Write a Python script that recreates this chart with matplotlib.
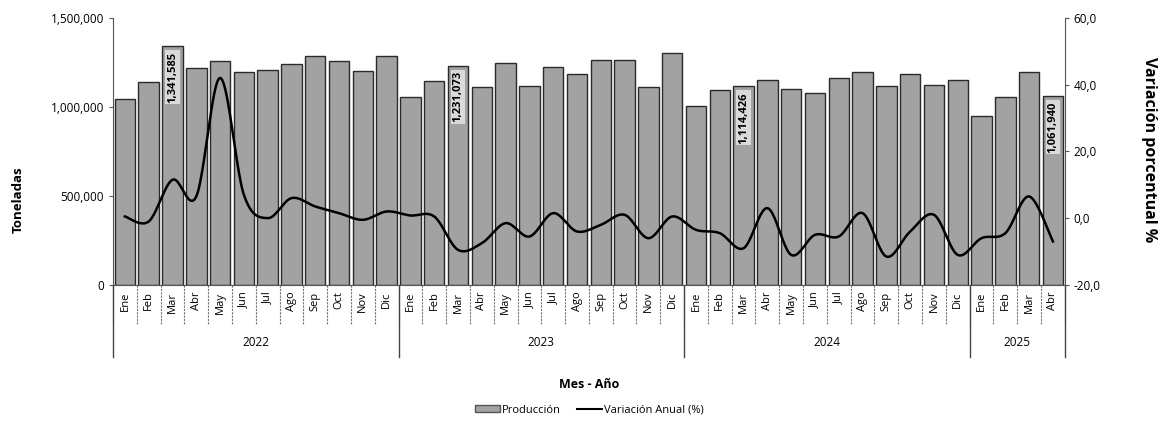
import numpy as np
import matplotlib
matplotlib.use("Agg")
import matplotlib.pyplot as plt
from matplotlib.patches import Patch
from matplotlib.lines import Line2D
from matplotlib.ticker import FuncFormatter

plt.rcParams['font.family'] = ['Open Sans', 'DejaVu Sans']

meses = ['Ene', 'Feb', 'Mar', 'Abr', 'May', 'Jun', 'Jul', 'Ago', 'Sep', 'Oct', 'Nov', 'Dic']
anios = ['2022', '2023', '2024', '2025']
meses_por_anio = [12, 12, 12, 4]

produccion = [1045000, 1142000, 1341585, 1217000, 1255000, 1198000, 1208000, 1240000, 1288000, 1255000, 1202000, 1288000,
              1056000, 1146000, 1231073, 1114000, 1249000, 1118000, 1226000, 1184000, 1264000, 1264000, 1114000, 1302000,
              1006000, 1096000, 1114426, 1148000, 1099000, 1077000, 1161000, 1198000, 1118000, 1185000, 1124000, 1148000,
              951000, 1058000, 1193000, 1061940]

variacion = [0.5, -1.0, 11.5, 6.5, 42.0, 7.0, 0.0, 6.0, 3.5, 1.5, -0.5, 2.0,
             0.8, 0.5, -9.5, -7.5, -1.5, -5.5, 1.5, -4.0, -2.0, 1.0, -6.0, 0.5,
             -3.5, -4.5, -9.0, 3.0, -11.0, -5.0, -5.5, 1.5, -11.5, -4.0, 1.0, -11.0,
             -6.0, -4.5, 6.5, -7.0]

# indices with a data label (Mar of each year, last month)
etiquetas = [2, 14, 26, 39]


def suavizar(x, y, n=24):
    # Catmull-Rom style bezier, close to Excel's smoothed line
    x = np.asarray(x, float)
    y = np.asarray(y, float)
    xs, ys = [], []
    t = np.linspace(0, 1, n, endpoint=False)
    for i in range(len(x) - 1):
        i0, i3 = max(i - 1, 0), min(i + 2, len(x) - 1)
        for arr, out in ((x, xs), (y, ys)):
            p0, p1, p2, p3 = arr[i0], arr[i], arr[i + 1], arr[i3]
            c1 = p1 + (p2 - p0) / 6
            c2 = p2 - (p3 - p1) / 6
            out.extend((1 - t) ** 3 * p1 + 3 * (1 - t) ** 2 * t * c1 + 3 * (1 - t) * t ** 2 * c2 + t ** 3 * p2)
    xs.append(x[-1])
    ys.append(y[-1])
    return np.array(xs), np.array(ys)


fig = plt.figure(figsize=(11.65, 4.24), dpi=100)
ax = fig.add_axes([0.097, 0.328, 0.817, 0.630])
x = np.arange(len(produccion))

ax.bar(x, produccion, width=0.86, color='#a2a2a2', edgecolor='#2a2a2a', linewidth=1.0, zorder=2)
ax.set_xlim(-0.5, len(produccion) - 0.5)
ax.set_ylim(0, 1500000)
ax.set_yticks([0, 500000, 1000000, 1500000])
ax.yaxis.set_major_formatter(FuncFormatter(lambda v, p: f'{int(v):,}'))
ax.tick_params(axis='y', labelsize=8.5, length=3, color='#555555')
ax.set_xticks([])
for s in ['top', 'right']:
    ax.spines[s].set_visible(False)
ax.spines['left'].set_color('#555555')
ax.spines['bottom'].set_color('#555555')

for i in etiquetas:
    ax.annotate(f'{produccion[i]:,}', (x[i], produccion[i]), xytext=(0, -4), textcoords='offset points',
                rotation=90, ha='center', va='top', fontsize=8, fontweight='bold', zorder=5,
                bbox=dict(boxstyle='square,pad=0.15', facecolor='#dadada', edgecolor='none'))

ax2 = ax.twinx()
ax2.set_ylim(-20, 60)
ax2.set_yticks([-20, 0, 20, 40, 60])
ax2.yaxis.set_major_formatter(FuncFormatter(lambda v, p: f'{v:.1f}'.replace('.', ',')))
ax2.tick_params(axis='y', labelsize=8.5, length=3, color='#555555')
for s in ['top', 'left', 'bottom']:
    ax2.spines[s].set_visible(False)
ax2.spines['right'].set_color('#555555')
xs, ys = suavizar(x, variacion)
ax2.plot(xs, ys, color='black', linewidth=1.8, zorder=4)

# category axis: months and years
tr = ax.get_xaxis_transform()
for i in x:
    ax.text(i, -0.025, meses[i % 12], transform=tr, rotation=90, ha='center', va='top', fontsize=8)
for b in range(len(produccion) + 1):
    ax.plot([b - 0.5, b - 0.5], [0, -0.15], transform=tr, color='#777777', linewidth=0.8,
            linestyle=(0, (2, 1)), clip_on=False)
inicio = 0
for anio, n in zip(anios, meses_por_anio):
    ax.plot([inicio - 0.5, inicio - 0.5], [0, -0.27], transform=tr, color='#444444', linewidth=1, clip_on=False)
    ax.text(inicio + n / 2 - 0.5, -0.215, anio, transform=tr, ha='center', va='center', fontsize=8.5)
    inicio += n
ax.plot([inicio - 0.5, inicio - 0.5], [0, -0.27], transform=tr, color='#444444', linewidth=1, clip_on=False)

fig.text(0.016, 0.528, 'Toneladas', rotation=90, ha='center', va='center', fontsize=9.5, fontweight='bold')
fig.text(0.986, 0.646, 'Variación porcentual %', rotation=270, ha='center', va='center', fontsize=11.5,
         fontweight='bold')
fig.text(0.506, 0.092, 'Mes - Año', ha='center', va='center', fontsize=9, fontweight='bold')

handles = [Patch(facecolor='#a2a2a2', edgecolor='#555555'),
           Line2D([0], [0], color='black', linewidth=1.5)]
fig.legend(handles, ['Producción', 'Variación Anual (%)'], loc='center', bbox_to_anchor=(0.506, 0.033),
           ncol=2, frameon=False, fontsize=8, handlelength=2.2, handleheight=0.6, columnspacing=1.5,
           handletextpad=0.2)

fig.savefig('out.png', dpi=100)
